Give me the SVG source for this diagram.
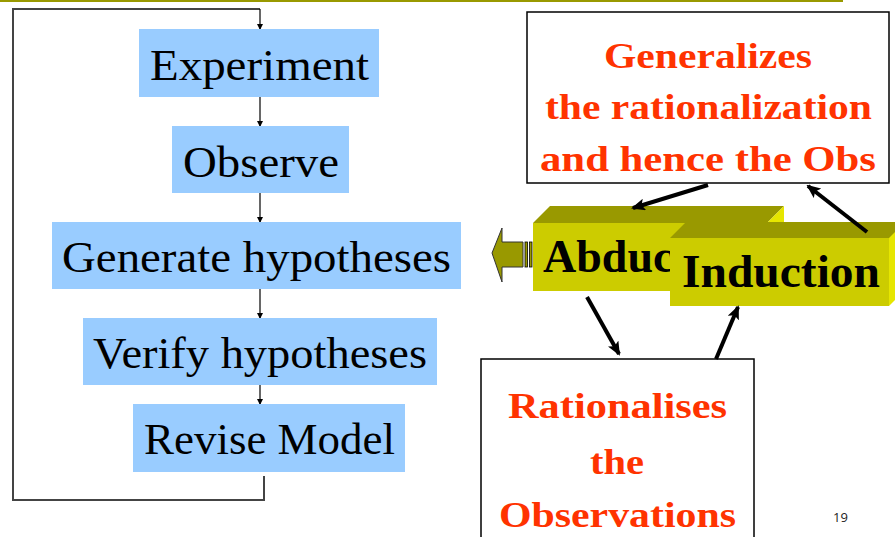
<svg xmlns="http://www.w3.org/2000/svg" width="895" height="537" viewBox="0 0 895 537">
<defs>
<marker id="sm" markerWidth="6" markerHeight="6" refX="5" refY="3" orient="auto" markerUnits="userSpaceOnUse"><path d="M0,0 L6,3 L0,6 Z" fill="#000"/></marker>
<marker id="big" markerWidth="14" markerHeight="12" refX="12" refY="6" orient="auto" markerUnits="userSpaceOnUse"><path d="M0,0 L14,6 L0,12 L3,6 Z" fill="#000"/></marker>
<clipPath id="abclip"><rect x="533" y="206" width="137" height="90"/></clipPath>
<style>
.box{fill:#99CCFF}
.lbl{font-family:"Liberation Serif",serif;font-size:45px;fill:#000;text-anchor:middle}
.red{font-family:"Liberation Serif",serif;font-weight:bold;font-size:36px;fill:#FF3300;text-anchor:middle}
.ylw{font-family:"Liberation Serif",serif;font-weight:bold;font-size:46px;fill:#000}
.flow{stroke:#000;stroke-width:1.2;fill:none}
.loop{stroke:#444;stroke-width:2;fill:none}
.thick{stroke:#000;stroke-width:4;fill:none}
</style>
</defs>
<rect width="895" height="537" fill="#fff"/>
<line x1="0" y1="1" x2="843" y2="1" stroke="#999900" stroke-width="2"/>

<g id="connectors">
<path class="loop" d="M264,476 V500 H13 V9 H260"/>
<line class="flow" x1="260" y1="9" x2="260" y2="29" marker-end="url(#sm)"/>
<line class="flow" x1="260" y1="97" x2="260" y2="126" marker-end="url(#sm)"/>
<line class="flow" x1="260" y1="193" x2="260" y2="222" marker-end="url(#sm)"/>
<line class="flow" x1="260" y1="289" x2="260" y2="318" marker-end="url(#sm)"/>
<line class="flow" x1="260" y1="385" x2="260" y2="404" marker-end="url(#sm)"/>
</g>

<g id="experiment"><rect class="box" x="139" y="29" width="240" height="68"/><text class="lbl" x="259.5" y="80" textLength="219" lengthAdjust="spacingAndGlyphs">Experiment</text></g>
<g id="observe"><rect class="box" x="172" y="126" width="177" height="67"/><text class="lbl" x="261" y="177" textLength="156" lengthAdjust="spacingAndGlyphs">Observe</text></g>
<g id="generate"><rect class="box" x="52" y="222" width="409" height="67"/><text class="lbl" x="256.5" y="272" textLength="389" lengthAdjust="spacingAndGlyphs">Generate hypotheses</text></g>
<g id="verify"><rect class="box" x="83" y="318" width="354" height="67"/><text class="lbl" x="260" y="368" textLength="334" lengthAdjust="spacingAndGlyphs">Verify hypotheses</text></g>
<g id="revise"><rect class="box" x="133" y="404" width="272" height="68"/><text class="lbl" x="269.5" y="454" textLength="251" lengthAdjust="spacingAndGlyphs">Revise Model</text></g>

<g id="generalizes">
<rect x="527" y="12" width="362" height="171" fill="#fff" stroke="#000" stroke-width="1.5"/>
<text class="red" x="708" y="68" textLength="208" lengthAdjust="spacingAndGlyphs">Generalizes</text>
<text class="red" x="708.5" y="119" textLength="327" lengthAdjust="spacingAndGlyphs">the rationalization</text>
<text class="red" x="708" y="171" textLength="336" lengthAdjust="spacingAndGlyphs">and hence the Obs</text>
</g>

<g id="rationalises">
<rect x="481" y="359" width="273" height="190" fill="#fff" stroke="#000" stroke-width="1.5"/>
<text class="red" x="617.5" y="418" textLength="219" lengthAdjust="spacingAndGlyphs">Rationalises</text>
<text class="red" x="617" y="474" textLength="54" lengthAdjust="spacingAndGlyphs">the</text>
<text class="red" x="617.5" y="527" textLength="237" lengthAdjust="spacingAndGlyphs">Observations</text>
</g>

<g id="left-arrow">
<polygon points="492,253 502,228 502,242 523,242 523,267 502,267 502,282" fill="#999900" stroke="#333" stroke-width="1"/>
<rect x="525" y="242" width="2.5" height="25" fill="#999900" stroke="#000" stroke-width="0.8"/>
<rect x="529.5" y="242" width="2.5" height="25" fill="#999900" stroke="#000" stroke-width="0.8"/>
</g>

<g id="abduction">
<polygon points="533,223 550,206 784,206 767,223" fill="#999900"/>
<polygon points="767,223 784,206 784,274 767,291" fill="#E6E600"/>
<rect x="533" y="223" width="234" height="68" fill="#CCCC00"/>
<text class="ylw" x="543" y="272" clip-path="url(#abclip)">Abduc</text>
</g>

<g id="induction">
<polygon points="670,238 686,222 895,222 895,238" fill="#999900"/>
<rect x="670" y="238" width="219" height="68" fill="#CCCC00"/>
<polygon points="889,238 895,232 895,300 889,306" fill="#E6E600"/>
<text class="ylw" x="682" y="287" textLength="198" lengthAdjust="spacingAndGlyphs">Induction</text>
</g>

<g id="thick-arrows">
<line class="thick" x1="708" y1="185" x2="633" y2="208" marker-end="url(#big)"/>
<line class="thick" x1="867" y1="232" x2="808" y2="186" marker-end="url(#big)"/>
<line class="thick" x1="587" y1="297" x2="619" y2="354" stroke-width="6" marker-end="url(#big)"/>
<line class="thick" x1="716" y1="359" x2="738" y2="307" marker-end="url(#big)"/>
</g>

<text x="833" y="522" font-family="'Open Sans','DejaVu Sans',sans-serif" font-size="13" fill="#222">19</text>
</svg>
